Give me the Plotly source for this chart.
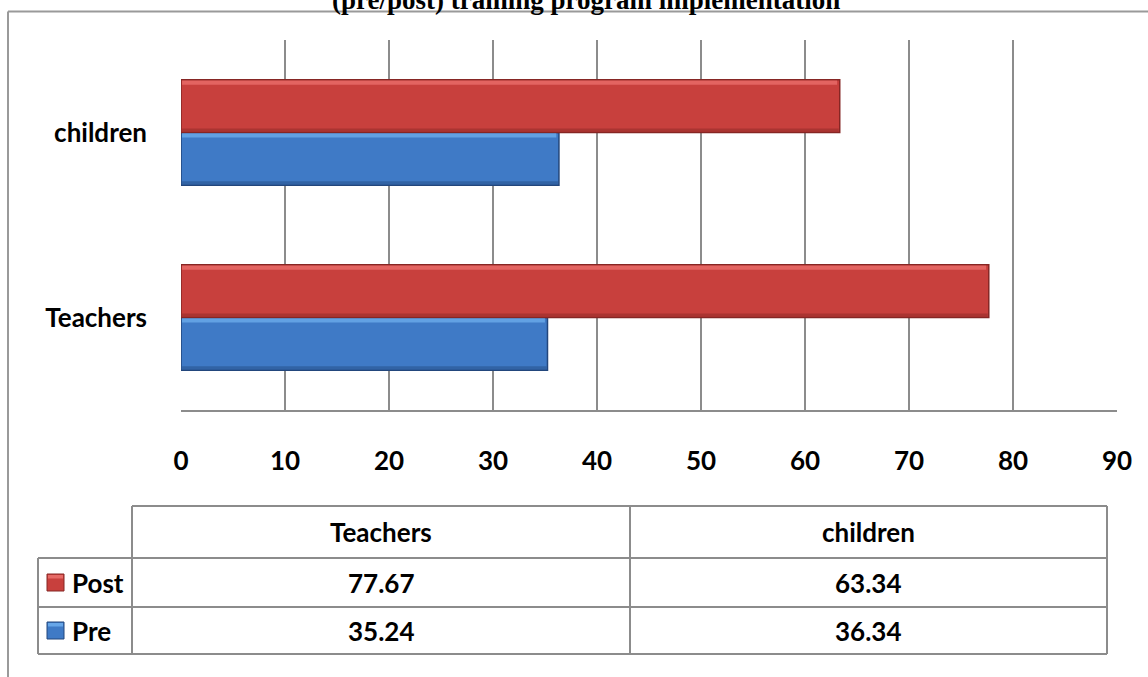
import plotly.graph_objects as go

# ---------------- data ----------------
categories = ["Teachers", "children"]
series_names = ["Post", "Pre"]
post_values = [77.67, 63.34]
pre_values = [35.24, 36.34]
x_ticks = [0, 10, 20, 30, 40, 50, 60, 70, 80, 90]
title_text = "(pre/post) training program implementation"

# ---------------- style ----------------
RED = "#C8403D"
RED_LIGHT = "#EE7470"
RED_EDGE = "#862624"
BLUE = "#3F7AC6"
BLUE_LIGHT = "#72B2F0"
BLUE_EDGE = "#22467C"
GRID = "#8C8C8C"
FONT = "Lato"
FS = 26

W, H = 1148, 677
L, R, T, B = 181, 1117, 40, 410
BARGAP = 0.43


def px_x(p):
    return (p - L) / (R - L)


def px_y(p):
    return (B - p) / (B - T)


fig = go.Figure()
fig.add_trace(go.Bar(
    y=categories, x=pre_values, orientation="h", name="Pre",
    marker=dict(color=BLUE, line=dict(color=BLUE_EDGE, width=1.5)),
    showlegend=False,
))
fig.add_trace(go.Bar(
    y=categories, x=post_values, orientation="h", name="Post",
    marker=dict(color=RED, line=dict(color=RED_EDGE, width=1.5)),
    showlegend=False,
))

shapes = []
annotations = []

# bevel highlights on bars (derived from the data arrays)
bw = (1 - BARGAP) / 2
unit_px = (B - T) / len(categories)
strip = 5 / unit_px
for i, cat in enumerate(categories):
    for vals, light, edge, lo in ((pre_values, BLUE_LIGHT, BLUE_EDGE, i - bw),
                                  (post_values, RED_LIGHT, RED_EDGE, i)):
        v = vals[i]
        hi = lo + bw
        shapes.append(dict(type="rect", xref="x", yref="y", layer="above",
                           x0=0.1, x1=v - 0.25, y0=hi - strip, y1=hi - 0.004,
                           fillcolor=light, opacity=0.7, line=dict(width=0)))
        shapes.append(dict(type="rect", xref="x", yref="y", layer="above",
                           x0=0.1, x1=v - 0.1, y0=lo + 0.004, y1=lo + strip * 0.8,
                           fillcolor=edge, opacity=0.45, line=dict(width=0)))

# outer frame (left and top edges visible)
shapes.append(dict(type="line", xref="paper", yref="paper",
                   x0=px_x(8), x1=px_x(1160), y0=px_y(11.5), y1=px_y(11.5),
                   line=dict(color="#9A9A9A", width=2)))
shapes.append(dict(type="line", xref="paper", yref="paper",
                   x0=px_x(8), x1=px_x(8), y0=px_y(11.5), y1=px_y(690),
                   line=dict(color="#9A9A9A", width=2)))

# title (cropped at the top, as in the reference)
annotations.append(dict(text="<b>" + title_text + "</b>", xref="paper", yref="paper",
                        x=px_x(586), y=px_y(0), xanchor="center", yanchor="middle",
                        showarrow=False,
                        font=dict(family="Liberation Serif", size=27, color="black")))

# data table
tl_x, col_x, tr_x = 132, 630, 1107
row_left = 38
y_head_top, y_head_bot, y_r1_bot, y_r2_bot = 506, 558, 607, 654
lc = dict(color=GRID, width=2)


def hline(x0, x1, y):
    shapes.append(dict(type="line", xref="paper", yref="paper",
                       x0=px_x(x0), x1=px_x(x1), y0=px_y(y), y1=px_y(y), line=lc))


def vline(x, y0, y1):
    shapes.append(dict(type="line", xref="paper", yref="paper",
                       x0=px_x(x), x1=px_x(x), y0=px_y(y0), y1=px_y(y1), line=lc))


hline(tl_x, tr_x, y_head_top)
hline(row_left, tr_x, y_head_bot)
hline(row_left, tr_x, y_r1_bot)
hline(row_left, tr_x, y_r2_bot)
vline(row_left, y_head_bot, y_r2_bot)
vline(tl_x, y_head_top, y_r2_bot)
vline(col_x, y_head_top, y_r2_bot)
vline(tr_x, y_head_top, y_r2_bot)

col_centers = [(tl_x + col_x) / 2, (col_x + tr_x) / 2]
head_mid = (y_head_top + y_head_bot) / 2
row_mids = [(y_head_bot + y_r1_bot) / 2, (y_r1_bot + y_r2_bot) / 2]
tfont = dict(family=FONT, size=FS, color="black")

for cx, cat in zip(col_centers, categories):
    annotations.append(dict(text="<b>" + cat + "</b>", xref="paper", yref="paper",
                            x=px_x(cx), y=px_y(head_mid), showarrow=False,
                            xanchor="center", yanchor="middle", font=tfont))

table_rows = [("Post", post_values, RED, RED_LIGHT, RED_EDGE),
              ("Pre", pre_values, BLUE, BLUE_LIGHT, BLUE_EDGE)]
for (name, vals, col, light, edge), ym in zip(table_rows, row_mids):
    shapes.append(dict(type="rect", xref="paper", yref="paper",
                       x0=px_x(47), x1=px_x(64), y0=px_y(ym - 8.5), y1=px_y(ym + 8.5),
                       fillcolor=col, line=dict(color=edge, width=1)))
    shapes.append(dict(type="rect", xref="paper", yref="paper",
                       x0=px_x(48), x1=px_x(63), y0=px_y(ym - 4), y1=px_y(ym - 7.5),
                       fillcolor=light, opacity=0.8, line=dict(width=0)))
    annotations.append(dict(text="<b>" + name + "</b>", xref="paper", yref="paper",
                            x=px_x(70), y=px_y(ym), showarrow=False,
                            xanchor="left", yanchor="middle", font=tfont))
    for cx, v in zip(col_centers, vals):
        annotations.append(dict(text="<b>%.2f</b>" % v, xref="paper", yref="paper",
                                x=px_x(cx), y=px_y(ym), showarrow=False,
                                xanchor="center", yanchor="middle", font=tfont))

fig.update_layout(
    width=W, height=H, autosize=False,
    margin=dict(l=L, r=W - R, t=T, b=H - B, pad=0),
    paper_bgcolor="white", plot_bgcolor="white",
    barmode="group", bargap=BARGAP, bargroupgap=0,
    shapes=shapes, annotations=annotations,
    xaxis=dict(range=[0, 90], tickvals=x_ticks, ticktext=[str(t) for t in x_ticks],
               showgrid=True, gridcolor=GRID, gridwidth=2, zeroline=False,
               showline=True, linecolor=GRID, linewidth=2,
               ticks="", ticklabelstandoff=27,
               tickfont=dict(family=FONT, size=FS, color="black", weight="bold"),
               fixedrange=True),
    yaxis=dict(categoryorder="array", categoryarray=categories,
               range=[-0.5, 1.5],
               showgrid=False, zeroline=False, showline=False, ticks="",
               ticklabelstandoff=33,
               tickfont=dict(family=FONT, size=FS, color="black", weight="bold"),
               fixedrange=True),
    showlegend=False,
)

fig.write_html("out.html")
